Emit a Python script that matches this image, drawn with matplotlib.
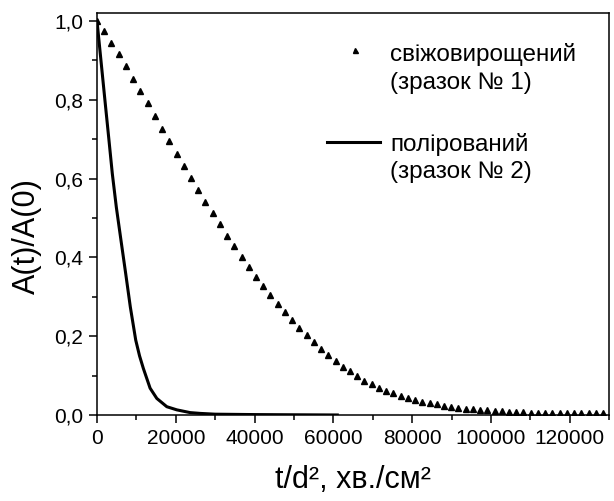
import matplotlib
matplotlib.use("Agg")
from matplotlib import pyplot as plt
from matplotlib.ticker import MultipleLocator, FuncFormatter

plt.rcParams['font.family'] = ['Liberation Sans', 'DejaVu Sans']

# зразок № 1 (трикутники)
t1 = [0, 1835, 3670, 5505, 7340, 9175, 11010, 12845, 14680, 16515,
      18350, 20185, 22020, 23855, 25690, 27525, 29360, 31195, 33030, 34865,
      36700, 38535, 40370, 42205, 44040, 45875, 47710, 49545, 51380, 53215,
      55050, 56885, 58720, 60555, 62390, 64225, 66060, 67895, 69730, 71565,
      73400, 75235, 77070, 78905, 80740, 82575, 84410, 86245, 88080, 89915,
      91750, 93585, 95420, 97255, 99090, 100925, 102760, 104595, 106430, 108265,
      110100, 111935, 113770, 115605, 117440, 119275, 121110, 122945, 124780, 126615,
      128450]
a1 = [1.000, 0.975, 0.945, 0.916, 0.886, 0.854, 0.823, 0.792, 0.759, 0.727,
      0.696, 0.663, 0.632, 0.602, 0.571, 0.540, 0.512, 0.484, 0.454, 0.428,
      0.401, 0.376, 0.350, 0.327, 0.305, 0.282, 0.262, 0.242, 0.222, 0.203,
      0.184, 0.168, 0.152, 0.137, 0.123, 0.111, 0.099, 0.087, 0.078, 0.069,
      0.062, 0.055, 0.048, 0.044, 0.039, 0.034, 0.030, 0.027, 0.024, 0.021,
      0.018, 0.016, 0.014, 0.013, 0.012, 0.010, 0.010, 0.008, 0.008, 0.007,
      0.006, 0.006, 0.005, 0.005, 0.005, 0.004, 0.004, 0.004, 0.004, 0.004,
      0.004]

# зразок № 2 (суцільна лінія)
t2 = [0, 1000, 2030, 3050, 3890, 4910, 6090, 7280, 8460, 9830,
      10800, 11770, 13480, 15180, 17720, 20260, 23650, 26190, 30000, 40000,
      50000, 61000]
a2 = [1.0, 0.90, 0.797, 0.696, 0.612, 0.527, 0.443, 0.359, 0.274, 0.190,
      0.150, 0.118, 0.068, 0.042, 0.021, 0.013, 0.006, 0.004, 0.002, 0.001,
      0.0005, 0.0]

x_ticks = [0, 20000, 40000, 60000, 80000, 100000, 120000]
y_ticks = [0.0, 0.2, 0.4, 0.6, 0.8, 1.0]

fig = plt.figure(figsize=(6.14, 5.01), dpi=100)
ax = fig.add_axes([0.158, 0.1717, 0.834, 0.802])

ax.plot(t1, a1, linestyle='none', marker='^', markersize=5, color='black')
ax.plot(t2, a2, color='black', linewidth=2.2)

ax.set_xlim(0, 130000)
ax.set_ylim(0, 1.02)
ax.set_xticks(x_ticks)
ax.set_yticks(y_ticks)
ax.xaxis.set_minor_locator(MultipleLocator(10000))
ax.yaxis.set_minor_locator(MultipleLocator(0.1))
ax.yaxis.set_major_formatter(FuncFormatter(lambda v, p: ('%.1f' % v).replace('.', ',')))

ax.tick_params(which='major', direction='out', length=6, width=1.1, pad=4, labelsize=15)
ax.tick_params(which='minor', direction='out', length=3.5, width=1.1)
for s in ax.spines.values():
    s.set_linewidth(1.1)

ax.set_xlabel('t/d², хв./см²', fontsize=22)
ax.set_ylabel('A(t)/A(0)', fontsize=22)
ax.xaxis.set_label_coords(0.5, -0.125)
ax.yaxis.set_label_coords(-0.107, 0.445)

# легенда
ax.plot([0.504], [0.908], marker='^', markersize=3.6, color='black', transform=ax.transAxes)
ax.plot([0.449, 0.553], [0.680, 0.680], color='black', linewidth=2.2, transform=ax.transAxes)
ax.text(0.572, 0.896, 'свіжовирощений', transform=ax.transAxes, fontsize=17.5, va='center')
ax.text(0.572, 0.826, '(зразок № 1)', transform=ax.transAxes, fontsize=17.5, va='center')
ax.text(0.572, 0.672, 'полірований', transform=ax.transAxes, fontsize=17.5, va='center')
ax.text(0.572, 0.604, '(зразок № 2)', transform=ax.transAxes, fontsize=17.5, va='center')

fig.savefig('out.png', dpi=100)
